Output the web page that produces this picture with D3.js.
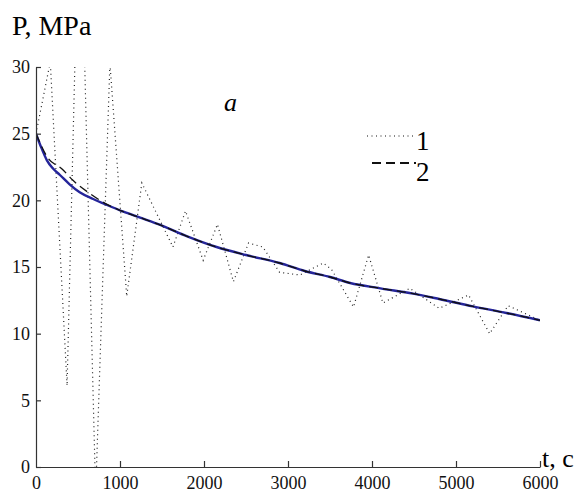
<!DOCTYPE html>
<html>
<head>
<meta charset="utf-8">
<script src="https://cdn.jsdelivr.net/npm/d3@7"></script>
<style>
  body { margin: 0; background: #fff; }
  svg { display: block; }
</style>
</head>
<body>
<div id="chart"></div>
<script>
// series 1 - dotted (oscillating)
var t_dotted = [0, 170, 370, 520, 710, 880, 1080, 1260, 1630, 1780, 1990, 2160, 2350, 2530, 2700, 2900, 3140, 3420, 3520, 3780, 3960, 4130, 4450, 4800, 5150, 5400, 5620, 6000];
var p_dotted = [25, 30.4, 6.1, 45, -2, 30.3, 12.8, 21.3, 16.5, 19.2, 15.5, 18.2, 13.9, 16.8, 16.5, 14.6, 14.4, 15.3, 14.8, 12.0, 15.9, 12.3, 13.4, 11.9, 12.9, 10.0, 12.1, 11.0];

// series 2 - dashed
var t_dashed = [0, 140, 310, 440, 620, 845, 1040, 1240, 1500, 1800, 2150, 2500, 2900, 3200, 3500, 3740, 4100, 4490, 4800, 5200, 5600, 6000];
var p_dashed = [25, 23.2, 22.35, 21.5, 20.6, 19.7, 19.15, 18.7, 18.1, 17.3, 16.5, 15.9, 15.3, 14.7, 14.25, 13.8, 13.4, 13.0, 12.6, 12.05, 11.55, 11.0];

// solid blue curve
var t_solid = [0, 60, 130, 200, 285, 400, 520, 680, 845, 1040, 1240, 1500, 1800, 2150, 2500, 2900, 3200, 3500, 3740, 4100, 4490, 4800, 5200, 5600, 6000];
var p_solid = [25, 24.0, 23.0, 22.4, 21.9, 21.2, 20.6, 20.1, 19.65, 19.15, 18.7, 18.1, 17.3, 16.5, 15.9, 15.3, 14.7, 14.25, 13.8, 13.4, 13.0, 12.6, 12.05, 11.55, 11.0];

var x_ticks = [0, 1000, 2000, 3000, 4000, 5000, 6000];
var y_ticks = [0, 5, 10, 15, 20, 25, 30];
var legend_names = ["1", "2"];

var serif = "'Liberation Serif', 'DejaVu Serif', 'Times New Roman', serif";

var width = 581, height = 494;
var svg = d3.select("#chart").append("svg")
  .attr("width", width)
  .attr("height", height);

var x = d3.scaleLinear().domain([0, 6000]).range([36, 540]);
var y = d3.scaleLinear().domain([0, 30]).range([467, 67]);

// clip to plot area
svg.append("defs").append("clipPath").attr("id", "plot_clip")
  .append("rect")
  .attr("x", 36).attr("y", 67)
  .attr("width", 504).attr("height", 400);

function make_points(ts, ps) {
  return ts.map(function(t, i) { return [t, ps[i]]; });
}

var line = d3.line()
  .x(function(d) { return x(d[0]); })
  .y(function(d) { return y(d[1]); });

var plot = svg.append("g").attr("clip-path", "url(#plot_clip)");

plot.append("path")
  .datum(make_points(t_dotted, p_dotted))
  .attr("d", line)
  .attr("fill", "none")
  .attr("stroke", "#222")
  .attr("stroke-width", 1.2)
  .attr("stroke-dasharray", "1,3.5");

plot.append("path")
  .datum(make_points(t_solid, p_solid))
  .attr("d", line.curve(d3.curveMonotoneX))
  .attr("fill", "none")
  .attr("stroke", "#25259a")
  .attr("stroke-width", 2.4);

plot.append("path")
  .datum(make_points(t_dashed, p_dashed))
  .attr("d", line.curve(d3.curveMonotoneX))
  .attr("fill", "none")
  .attr("stroke", "#111")
  .attr("stroke-width", 1.3)
  .attr("stroke-dasharray", "9,5");

// axes, ticks point inward
var x_axis = svg.append("g")
  .attr("transform", "translate(0," + y(0) + ")")
  .call(d3.axisBottom(x).tickValues(x_ticks).tickFormat(d3.format("d"))
    .tickSize(-6).tickPadding(9).tickSizeOuter(0));
var y_axis = svg.append("g")
  .attr("transform", "translate(" + x(0) + ",0)")
  .call(d3.axisLeft(y).tickValues(y_ticks).tickFormat(d3.format("d"))
    .tickSize(-5).tickPadding(6).tickSizeOuter(0));

[x_axis, y_axis].forEach(function(a) {
  a.attr("font-family", null).attr("font-size", null);
  a.select(".domain").attr("stroke", "#333").attr("stroke-width", 1.2);
  a.selectAll(".tick line").attr("stroke", "#333").attr("stroke-width", 1.2);
  a.selectAll(".tick text")
    .attr("fill", "#111")
    .style("font-family", serif)
    .style("font-size", "18px");
});
x_axis.selectAll(".tick").filter(function(d) { return d === 0; }).select("line").remove();

// labels
svg.append("text")
  .attr("x", 12).attr("y", 35)
  .style("font-family", serif).style("font-size", "28px")
  .text("P, MPa");
svg.append("text")
  .attr("x", 542).attr("y", 467)
  .style("font-family", serif).style("font-size", "26px")
  .text("t, c");
svg.append("text")
  .attr("x", 224).attr("y", 111)
  .style("font-family", serif).style("font-size", "26px")
  .style("font-style", "italic")
  .text("a");

// legend
var legend_styles = [
  { dash: "1,3.5", width: 1.2, x0: 367, y: 136 },
  { dash: "9,5", width: 1.8, x0: 372, y: 163 }
];
var legend_y = [150, 181];
legend_names.forEach(function(name, i) {
  var s = legend_styles[i];
  svg.append("line")
    .attr("x1", s.x0).attr("x2", 416)
    .attr("y1", s.y).attr("y2", s.y)
    .attr("stroke", "#111")
    .attr("stroke-width", s.width)
    .attr("stroke-dasharray", s.dash);
  svg.append("text")
    .attr("x", 416).attr("y", legend_y[i])
    .style("font-family", serif).style("font-size", "27px")
    .text(name);
});
</script>
</body>
</html>
